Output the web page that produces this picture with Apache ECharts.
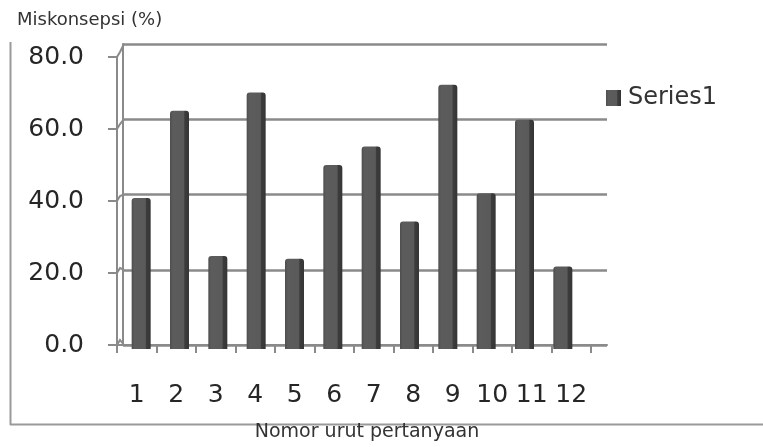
<!DOCTYPE html>
<html>
<head>
<meta charset="utf-8">
<script src="https://cdn.jsdelivr.net/npm/echarts@6/dist/echarts.min.js"></script>
<style>
html,body{margin:0;padding:0;background:#fff;}
#c{width:763px;height:447px;}
</style>
</head>
<body>
<div id="c"></div>
<script>
const categories = ['1','2','3','4','5','6','7','8','9','10','11','12'];
const seriesName = 'Series1';
const values = [40.1, 63.3, 24.7, 68.2, 24.0, 48.9, 53.8, 33.9, 70.2, 41.4, 60.9, 21.9];
const yTicks = [0, 20, 40, 60, 80];
const yTitle = 'Miskonsepsi (%)';
const xTitle = 'Nomor urut pertanyaan';

const FONT = 'DejaVu Sans';
const TXT = '#262626';
const LINE = '#8a8a8a';

const chart = echarts.init(document.getElementById('c'), null, {renderer: 'canvas'});

const option = {
  animation: false,
  backgroundColor: '#ffffff',
  title: {
    text: yTitle, left: 17, top: 11, padding: 0,
    textStyle: {fontFamily: FONT, fontSize: 18, fontWeight: 'normal', color: '#333333'}
  },
  legend: {
    data: [seriesName], left: 606, top: 86, padding: 0,
    icon: 'rect', itemWidth: 15, itemHeight: 16, itemGap: 6,
    textStyle: {fontFamily: FONT, fontSize: 24, color: '#333333', padding: [0,0,0,2]}
  },
  grid: [
    {left: 123, right: 156, top: 44, bottom: 102},   // back wall
    {left: 117, right: 172, top: 57, bottom: 90},    // front axes
    {left: 122, right: 181, top: 48, bottom: 98}     // bars
  ],
  xAxis: [
    {gridIndex: 0, type: 'category', data: categories, axisLabel: {show: false}, axisTick: {show: false},
     axisLine: {show: true, lineStyle: {color: LINE, width: 2}}},
    {gridIndex: 1, type: 'category', data: categories,
     axisLine: {show: true, lineStyle: {color: LINE, width: 2}},
     axisTick: {show: true, length: 8, lineStyle: {color: LINE, width: 2}},
     axisLabel: {interval: 0, margin: 38, fontFamily: FONT, fontSize: 25, color: TXT},
     name: xTitle, nameLocation: 'middle', nameGap: 78,
     nameTextStyle: {fontFamily: FONT, fontSize: 19, color: '#333333', padding: [0,0,0,26]}},
    {gridIndex: 2, type: 'category', data: categories, show: false}
  ],
  yAxis: [
    {gridIndex: 0, type: 'value', min: 0, max: 80, interval: 20,
     axisLabel: {show: false}, axisTick: {show: false},
     axisLine: {show: true, lineStyle: {color: LINE, width: 2}},
     splitLine: {show: true, lineStyle: {color: LINE, width: 2.5}}},
    {gridIndex: 1, type: 'value', min: 0, max: 80, interval: 20,
     axisLine: {show: true, lineStyle: {color: LINE, width: 2}},
     axisTick: {show: true, length: 9, lineStyle: {color: LINE, width: 2}},
     splitLine: {show: false},
     axisLabel: {margin: 33, fontFamily: FONT, fontSize: 25, color: TXT,
       formatter: v => v.toFixed(1)}},
    {gridIndex: 2, type: 'value', min: 0, max: 80, show: false, splitLine: {show: false}}
  ],
  series: [{
    name: seriesName, type: 'bar', xAxisIndex: 2, yAxisIndex: 2,
    data: values, barWidth: 19,
    itemStyle: {
      color: {
        type: 'linear', x: 0, y: 0, x2: 1, y2: 0,
        colorStops: [
          {offset: 0, color: '#4e4e4e'},
          {offset: 0.15, color: '#5c5c5c'},
          {offset: 0.72, color: '#5a5a5a'},
          {offset: 0.78, color: '#3c3c3c'},
          {offset: 1, color: '#353535'}
        ]
      },
      borderRadius: [3, 3, 0, 0]
    }
  }]
};
chart.setOption(option);

// 3D wall/floor connector lines and outer frame (decoration)
const g = [];
yTicks.forEach(v => {
  const yf = chart.convertToPixel({yAxisIndex: 1}, v);
  const yb = chart.convertToPixel({yAxisIndex: 0}, v);
  g.push({type: 'polyline', shape: {points: [[117, yf], [120, yf - 5], [124, yb]]},
          style: {stroke: LINE, lineWidth: 2, fill: null}});
});
const yFront0 = chart.convertToPixel({yAxisIndex: 1}, 0);
const yBack0 = chart.convertToPixel({yAxisIndex: 0}, 0);
g.push({type: 'polyline', shape: {points: [[590, yFront0], [599, yFront0], [607, yBack0]]},
        style: {stroke: LINE, lineWidth: 2, fill: null}});
// outer frame
g.push({type: 'line', shape: {x1: 10.5, y1: 42, x2: 10.5, y2: 425}, style: {stroke: '#9a9a9a', lineWidth: 2}});
g.push({type: 'line', shape: {x1: 10, y1: 424.5, x2: 763, y2: 424.5}, style: {stroke: '#9a9a9a', lineWidth: 2}});
chart.setOption({graphic: g});
</script>
</body>
</html>
